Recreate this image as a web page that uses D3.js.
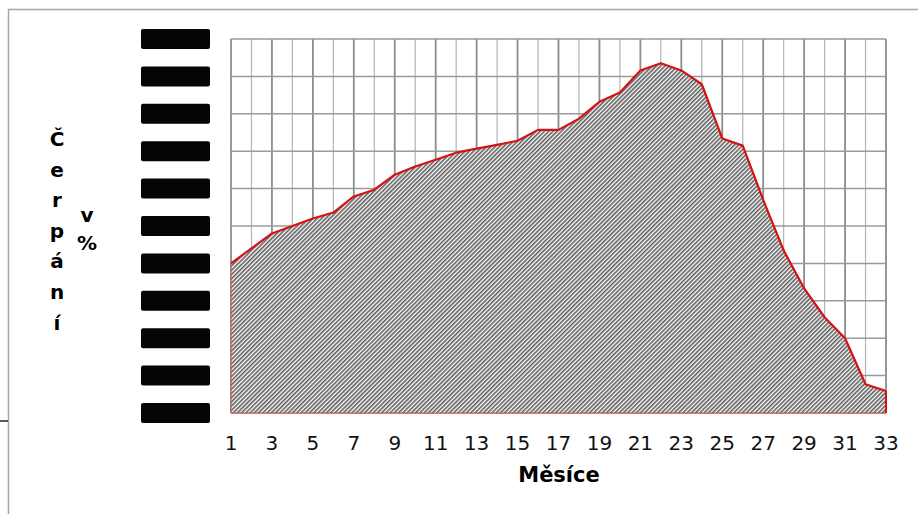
<!DOCTYPE html>
<html>
<head>
<meta charset="utf-8">
<script src="https://cdn.jsdelivr.net/npm/d3@7/dist/d3.min.js"></script>
<style>
  html, body { margin: 0; padding: 0; background: #fff; }
  svg { display: block; }
</style>
</head>
<body>
<div id="chart"></div>
<script>
// ---- data ----
const months = [1,2,3,4,5,6,7,8,9,10,11,12,13,14,15,16,17,18,19,20,21,22,23,24,25,26,27,28,29,30,31,32,33];
const values = [40,44,48,50,52,53.6,57.9,59.7,63.7,65.9,67.7,69.6,70.7,71.7,72.8,75.7,75.7,78.7,83.2,85.7,91.6,93.5,91.6,87.9,73.4,71.5,57,43.5,33.3,25.6,20,7.7,5.9];
const xTickLabels = [1,3,5,7,9,11,13,15,17,19,21,23,25,27,29,31,33];
const yTicks = [0,10,20,30,40,50,60,70,80,90,100];
const yTitleLetters = ["Č","e","r","p","á","n","í"];
const yTitleUnit = ["v","%"];
const xTitle = "Měsíce";

// ---- layout ----
const W = 918, H = 514;
const pLeft = 231, pRight = 886, pTop = 39, pBottom = 413;

const svg = d3.select("#chart").append("svg").attr("width", W).attr("height", H);

const defs = svg.append("defs");
const pat = defs.append("pattern")
  .attr("id", "hatch").attr("patternUnits", "userSpaceOnUse")
  .attr("width", 3).attr("height", 3)
  .attr("patternTransform", "rotate(45)");
pat.append("rect").attr("width", 3).attr("height", 3).attr("fill", "#ffffff");
pat.append("rect").attr("x", 0).attr("y", 0).attr("width", 1.6).attr("height", 3).attr("fill", "#5c5c5c");

const x = d3.scaleLinear().domain([1, 33]).range([pLeft, pRight]);
const y = d3.scaleLinear().domain([0, 100]).range([pBottom, pTop]);

// outer frame
svg.append("path").attr("d", `M${W},9.5 H8.5 V${H}`).attr("fill", "none").attr("stroke", "#a8a8a8").attr("stroke-width", 1.5);
svg.append("line").attr("x1", 0).attr("x2", 8).attr("y1", 421).attr("y2", 421).attr("stroke", "#222").attr("stroke-width", 1.5);

// grid
const grid = svg.append("g");
grid.selectAll("line.vminor").data(months.filter(m => m % 2 === 0)).join("line")
  .attr("x1", d => x(d)).attr("x2", d => x(d)).attr("y1", pTop).attr("y2", pBottom)
  .attr("stroke", "#b4b4b4").attr("stroke-width", 1.2);
grid.selectAll("line.vmajor").data(months.filter(m => m % 2 === 1)).join("line")
  .attr("x1", d => x(d)).attr("x2", d => x(d)).attr("y1", pTop).attr("y2", pBottom)
  .attr("stroke", "#8c8c8c").attr("stroke-width", 1.8);
grid.selectAll("line.h").data(yTicks).join("line")
  .attr("x1", pLeft).attr("x2", pRight).attr("y1", d => y(d)).attr("y2", d => y(d))
  .attr("stroke", "#9a9a9a").attr("stroke-width", 1.5);

// area + line
const pts = months.map((m, i) => [m, values[i]]);
const area = d3.area().x(d => x(d[0])).y0(y(0)).y1(d => y(d[1]));
svg.append("path").datum(pts).attr("d", area)
  .attr("fill", "url(#hatch)").attr("stroke", "#c85050").attr("stroke-width", 1);
const line = d3.line().x(d => x(d[0])).y(d => y(d[1]));
svg.append("path").datum(pts).attr("d", line)
  .attr("fill", "none").attr("stroke", "#d41414").attr("stroke-width", 2.2).attr("stroke-linejoin", "round");
svg.append("line").attr("x1", x(33)).attr("x2", x(33)).attr("y1", y(values[32])).attr("y2", y(0))
  .attr("stroke", "#d41414").attr("stroke-width", 2);

// redacted y tick labels (black boxes)
svg.selectAll("rect.ylab").data(yTicks).join("rect")
  .attr("x", 141).attr("y", d => y(d) - 10).attr("width", 69).attr("height", 20)
  .attr("rx", 2).attr("fill", "#050505");

// x tick labels
svg.selectAll("text.xt").data(xTickLabels).join("text")
  .attr("x", d => x(d)).attr("y", 450).attr("text-anchor", "middle")
  .attr("font-family", "DejaVu Sans, Verdana, sans-serif").attr("font-size", 20)
  .attr("fill", "#111").text(d => d);

// x title
svg.append("text").attr("x", 559).attr("y", 482).attr("text-anchor", "middle")
  .attr("font-family", "DejaVu Sans, Verdana, sans-serif").attr("font-size", 21).attr("font-weight", "bold")
  .attr("fill", "#000").text(xTitle);

// y title (stacked letters)
svg.selectAll("text.yl").data(yTitleLetters).join("text")
  .attr("x", 57).attr("y", (d, i) => 146 + i * 30.6).attr("text-anchor", "middle")
  .attr("font-family", "DejaVu Sans, Verdana, sans-serif").attr("font-size", 20).attr("font-weight", "bold")
  .attr("fill", "#000").text(d => d);
svg.selectAll("text.yu").data(yTitleUnit).join("text")
  .attr("x", 87).attr("y", (d, i) => 222 + i * 28).attr("text-anchor", "middle")
  .attr("font-family", "DejaVu Sans, Verdana, sans-serif").attr("font-size", 20).attr("font-weight", "bold")
  .attr("fill", "#000").text(d => d);
</script>
</body>
</html>
